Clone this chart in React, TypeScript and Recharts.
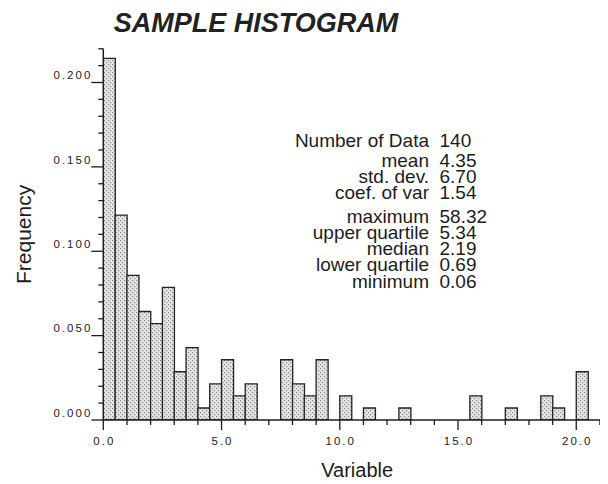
import React from 'react';
import { BarChart, Bar, XAxis, YAxis } from 'recharts';

const binMids = [
  0.25, 0.75, 1.25, 1.75, 2.25, 2.75, 3.25, 3.75, 4.25, 4.75, 5.25, 5.75, 6.25, 6.75,
  7.25, 7.75, 8.25, 8.75, 9.25, 9.75, 10.25, 10.75, 11.25, 11.75, 12.25, 12.75, 13.25,
  13.75, 14.25, 14.75, 15.25, 15.75, 16.25, 16.75, 17.25, 17.75, 18.25, 18.75, 19.25,
  19.75, 20.25,
];
const frequencies = [
  0.2143, 0.1214, 0.0857, 0.0643, 0.0571, 0.0786, 0.0286, 0.0429, 0.0071, 0.0214, 0.0357,
  0.0143, 0.0214, 0, 0, 0.0357, 0.0214, 0.0143, 0.0357, 0, 0.0143, 0, 0.0071, 0, 0, 0.0071,
  0, 0, 0, 0, 0, 0.0143, 0, 0, 0.0071, 0, 0, 0.0143, 0.0071, 0, 0.0286,
];

const yTicks = [
  0, 0.01, 0.02, 0.03, 0.04, 0.05, 0.06, 0.07, 0.08, 0.09, 0.1, 0.11, 0.12, 0.13, 0.14,
  0.15, 0.16, 0.17, 0.18, 0.19, 0.2, 0.21, 0.22,
];
const yLabelTicks = [0, 0.05, 0.1, 0.15, 0.2];
const yLabels = ['0.000', '0.050', '0.100', '0.150', '0.200'];

const xTicks = [0, 1, 2, 3, 4, 5, 6, 7, 8, 9, 10, 11, 12, 13, 14, 15, 16, 17, 18, 19, 20, 21];
const xLabelTicks = [0, 5, 10, 15, 20];
const xLabels = ['0.0', '5.0', '10.0', '15.0', '20.0'];

const titleText = 'SAMPLE HISTOGRAM';
const xTitle = 'Variable';
const yTitle = 'Frequency';

const statGroup1Names = ['Number of Data'];
const statGroup1Values = ['140'];
const statGroup2Names = ['mean', 'std. dev.', 'coef. of var'];
const statGroup2Values = ['4.35', '6.70', '1.54'];
const statGroup3Names = ['maximum', 'upper quartile', 'median', 'lower quartile', 'minimum'];
const statGroup3Values = ['58.32', '5.34', '2.19', '0.69', '0.06'];

const data = binMids.map((mid, i) => ({ mid, freq: frequencies[i] }));

const FONT = '"Liberation Sans", Arial, Helvetica, sans-serif';
const INK = '#1c1c1c';

const YTick = (props: any) => {
  const { x, y, payload } = props;
  const v = payload.value;
  const idx = yLabelTicks.findIndex((t) => Math.abs(t - v) < 1e-9);
  const major = idx >= 0;
  return (
    <g>
      <line x1={x - (major ? 12 : 5)} y1={y} x2={x} y2={y} stroke={INK} strokeWidth={1.3} />
      {major && (
        <text
          x={x - 11}
          y={y - 3.2}
          textAnchor="end"
          fontFamily={FONT}
          fontSize={11.5}
          letterSpacing={2}
          fill="#222"
        >
          {yLabels[idx]}
        </text>
      )}
    </g>
  );
};

const XTick = (props: any) => {
  const { x, y, payload } = props;
  const v = payload.value;
  const idx = xLabelTicks.findIndex((t) => Math.abs(t - v) < 1e-9);
  const major = idx >= 0;
  return (
    <g>
      <line x1={x} y1={y} x2={x} y2={y + (major ? 10 : 5)} stroke={INK} strokeWidth={1.3} />
      {major && (
        <text
          x={x + 1}
          y={y + 25}
          textAnchor="middle"
          fontFamily={FONT}
          fontSize={11.5}
          letterSpacing={2}
          fill="#222"
        >
          {xLabels[idx]}
        </text>
      )}
    </g>
  );
};

const YTitle = (props: any) => {
  const vb = props.viewBox || {};
  const cx = 22.5;
  const cy = vb.y + vb.height / 2;
  return (
    <text
      x={cx}
      y={cy}
      transform={`rotate(-90, ${cx}, ${cy})`}
      textAnchor="middle"
      fontFamily={FONT}
      fontSize={21}
      fill={INK}
    >
      {yTitle}
    </text>
  );
};

const XTitle = (props: any) => {
  const vb = props.viewBox || {};
  return (
    <text
      x={vb.x + vb.width / 2 + 2}
      y={vb.y + 57}
      textAnchor="middle"
      fontFamily={FONT}
      fontSize={20}
      fill={INK}
    >
      {xTitle}
    </text>
  );
};

const statBaselines2 = [159.3, 175.3, 191.3];
const statBaselines3 = [214.7, 230.7, 247, 263, 279.7];

export default function App() {
  const W = 600;
  const H = 476;
  const nameX = 421;
  const valX = 431.5;
  const statStyle = { fontFamily: FONT, fontSize: 19, fill: INK } as any;
  return (
    <div style={{ position: 'relative', width: W, height: H }}>
      <BarChart
        width={W}
        height={H}
        data={data}
        margin={{ top: 40.75, right: 1, bottom: 14, left: 0 }}
        barCategoryGap={0}
        barGap={0}
      >
        <XAxis
          dataKey="mid"
          type="number"
          domain={[0, 21.3]}
          ticks={xTicks}
          interval={0}
          tickSize={0}
          tickMargin={0}
          tickLine={false}
          tick={XTick}
          axisLine={{ stroke: INK, strokeWidth: 1.5 }}
          height={50}
          allowDataOverflow
          label={{ content: XTitle }}
        />
        <YAxis
          type="number"
          domain={[0, 0.22]}
          ticks={yTicks}
          interval={0}
          tickSize={0}
          tickMargin={0}
          tickLine={false}
          tick={YTick}
          axisLine={{ stroke: INK, strokeWidth: 1.5 }}
          width={95.3}
          allowDataOverflow
          label={{ content: YTitle }}
        />
        <Bar
          dataKey="freq"
          fill="url(#stipple)"
          stroke="#222"
          strokeWidth={1.3}
          isAnimationActive={false}
        />
      </BarChart>
      <svg
        width={W}
        height={H}
        style={{ position: 'absolute', left: 0, top: 0, pointerEvents: 'none' }}
      >
        <defs>
          <pattern id="stipple" patternUnits="userSpaceOnUse" width={4} height={4}>
            <rect x={0} y={0} width={4} height={4} fill="#e4e4e4" />
            <rect x={0} y={0} width={1.2} height={1.2} fill="#8a8a8a" />
            <rect x={2} y={2} width={1.2} height={1.2} fill="#8a8a8a" />
          </pattern>
        </defs>
        <text
          x={248}
          y={23.7}
          textAnchor="middle"
          fontFamily={FONT}
          fontSize={27}
          fontWeight="bold"
          fontStyle="italic"
          fill="#222"
        >
          {titleText}
        </text>
        {statGroup1Names.map((n, i) => (
          <g key={'g1' + i}>
            <text x={nameX} y={138.7} textAnchor="end" {...statStyle}>{n}</text>
            <text x={valX} y={138.7} {...statStyle}>{statGroup1Values[i]}</text>
          </g>
        ))}
        {statGroup2Names.map((n, i) => (
          <g key={'g2' + i}>
            <text x={nameX} y={statBaselines2[i]} textAnchor="end" {...statStyle}>{n}</text>
            <text x={valX} y={statBaselines2[i]} {...statStyle}>{statGroup2Values[i]}</text>
          </g>
        ))}
        {statGroup3Names.map((n, i) => (
          <g key={'g3' + i}>
            <text x={nameX} y={statBaselines3[i]} textAnchor="end" {...statStyle}>{n}</text>
            <text x={valX} y={statBaselines3[i]} {...statStyle}>{statGroup3Values[i]}</text>
          </g>
        ))}
      </svg>
    </div>
  );
}
